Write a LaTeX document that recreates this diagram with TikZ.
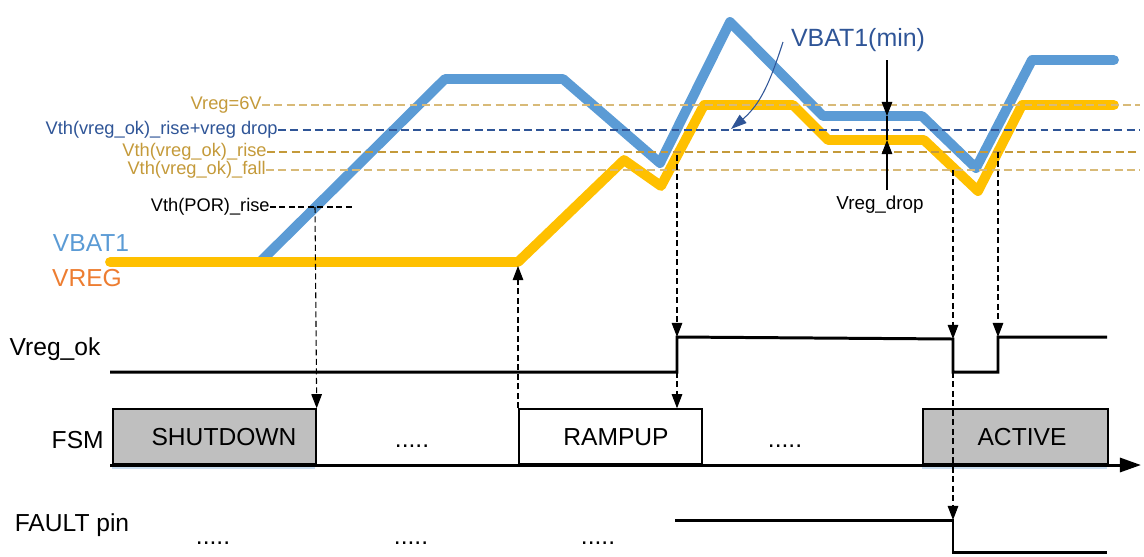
\documentclass[tikz,border=0pt]{standalone}
\usepackage{fontspec}
\setmainfont{Liberation Sans}
\usetikzlibrary{arrows.meta}

\definecolor{vbatblue}{HTML}{5B9BD5}
\definecolor{vregyellow}{HTML}{FFC000}
\definecolor{vregorange}{HTML}{ED7D31}
\definecolor{thgold}{HTML}{C49A3A}
\definecolor{thtan}{HTML}{D8BA78}
\definecolor{thblue}{HTML}{2F5597}
\definecolor{boxgray}{HTML}{BFBFBF}
\definecolor{boxshade}{HTML}{C9DDF0}

\begin{document}
\begin{tikzpicture}[x=0.02cm, y=-0.02cm,
    curve/.style={line width=5.6pt, line join=round, line cap=round},
    thline/.style={line width=0.75pt, dash pattern=on 4.5pt off 2.5pt},
    sig/.style={line width=1.7pt},
    guide/.style={line width=0.6pt, dash pattern=on 3.4pt off 2pt, -{Triangle[length=8pt,width=6pt]}},
    thin/.style={line width=0.6pt},
    lbl/.style={font=\fontsize{10.4}{12}\selectfont, inner sep=0pt, anchor=east},
    big/.style={font=\fontsize{14}{16}\selectfont, inner sep=0pt},
    fsmbox/.style={draw, line width=1pt, anchor=south west, minimum height=1.1cm}]
  \useasboundingbox (0,0) rectangle (1144,556);

  % VBAT1 and VREG curves
  \draw[curve, vbatblue] (260,262) -- (445,79) -- (563,79) -- (660,163)
    -- (730,22) -- (823,116) -- (922,116) -- (976,168) -- (1032,60) -- (1114,60);
  \draw[curve, vregyellow] (110,262) -- (518,262) -- (624,160) -- (661,186)
    -- (704,105) -- (793,105) -- (828,140) -- (924,140) -- (978,191)
    -- (1022,105) -- (1114,105);

  % thresholds
  \node[lbl, text=thgold] (lvreg) at (262,105) {Vreg=6V};
  \node[lbl, text=thblue] (lrisedrop) at (278,130) {Vth(vreg\_ok)\_rise+vreg drop};
  \node[lbl, text=thgold] (lrise) at (267,152) {Vth(vreg\_ok)\_rise};
  \node[lbl, text=thgold] (lfall) at (266,170) {Vth(vreg\_ok)\_fall};
  \node[lbl] (lpor) at (270,207) {Vth(POR)\_rise};
  \draw[thline, thtan] (lvreg.east) -- (1140,105);
  \draw[thline, thblue] (lrisedrop.east) -- (1140,130);
  \draw[thline, thgold] (lrise.east) -- (1140,152);
  \draw[thline, thtan] (lfall.east) -- (1140,170);
  \draw[thline, dash pattern=on 3.4pt off 2pt] (lpor.east) -- (352,207);

  % signal names
  \node[big, text=vbatblue] (nvbat) at (91,243) {VBAT1};
  \node[big, text=vregorange] (nvreg) at (87,278) {VREG};
  \node[big] (nok) at (55,349) {Vreg\_ok};
  \node[big, anchor=east] (nfsm) at (104,440) {FSM};
  \node[big] (nfault) at (72,525) {FAULT pin};

  % VBAT1(min) and Vreg_drop
  \node[font=\fontsize{14.2}{16}\selectfont, text=thblue, inner sep=0pt] (vmin) at (858,40) {VBAT1(min)};
  \draw[thin, thblue, -{Triangle[length=9pt,width=6pt]}] (783,42) to[out=252, in=40] (731,129);
  \node[font=\fontsize{10.7}{12}\selectfont, inner sep=0pt] (vdrop) at (880,205) {Vreg\_drop};
  \coordinate (droptop) at (887,60);
  \coordinate (dropb) at (887,116);
  \coordinate (dropy) at (887,140);
  \coordinate (dropbot) at (887,190);
  \draw[thin, -{Triangle[length=8pt,width=6pt]}] (droptop) -- (dropb);
  \draw[thin] (dropb) -- (dropy);
  \draw[thin, -{Triangle[length=8pt,width=6pt]}] (dropbot) -- (dropy);

  % Vreg_ok
  \coordinate (ok0) at (110,372);
  \coordinate (ok1) at (677,372);
  \coordinate (ok2) at (677,337);
  \coordinate (ok3) at (953,339);
  \coordinate (ok4) at (953,372);
  \coordinate (ok5) at (998,372);
  \coordinate (ok6) at (998,337);
  \coordinate (ok7) at (1107,337);
  \draw[sig] (ok0) -- (ok1) -- (ok2) -- (ok3) -- (ok4) -- (ok5) -- (ok6) -- (ok7);

  % FSM states
  \draw[boxshade, line width=1pt] (112,468) -- (315,468) (922,468) -- (1107,468);
  \node[fsmbox, fill=boxgray, minimum width=4.06cm] (shutdown) at (112,465) {};
  \node[fsmbox, fill=white, minimum width=3.66cm] (rampup) at (518,465) {};
  \node[fsmbox, fill=boxgray, minimum width=3.7cm] (active) at (922,465) {};
  \node[big] (tshutdown) at (224,437) {SHUTDOWN};
  \node[big] (trampup) at (616,437) {RAMPUP};
  \node[big] (tactive) at (1022,437) {ACTIVE};
  \node[big, anchor=base] (dots1) at (412,447) {.....};
  \node[big, anchor=base] (dots2) at (785,447) {.....};
  \draw[line width=1.7pt, -{Triangle[length=12pt,width=8pt]}] (110,465) -- (1141,465);

  % FAULT pin
  \coordinate (f0) at (675,520);
  \coordinate (f1) at (953,520);
  \coordinate (f2) at (953,552);
  \coordinate (f3) at (1107,552);
  \draw[sig] (f0) -- (f1) -- (f2) -- (f3);
  \node[big, anchor=base] (dots3) at (213,544) {.....};
  \node[big, anchor=base] (dots4) at (411,544) {.....};
  \node[big, anchor=base] (dots5) at (598,544) {.....};

  % cause and effect
  \coordinate (porhit) at (315,207);
  \coordinate (rampstart) at (518,266);
  \coordinate (okrise) at (677,155);
  \coordinate (okfall) at (953,170);
  \coordinate (okrise2) at (998,152);
  \draw[guide] (porhit) -- (shutdown.north east);
  \draw[guide] (rampup.north west) -- (rampstart);
  \draw[guide] (okrise) -- (ok2);
  \draw[guide] (ok1) -- (ok1 |- rampup.north);
  \draw[guide] (okfall) -- (ok3);
  \draw[guide] (okrise2) -- (ok6);
  \draw[guide] (ok4) -- (f1);
\end{tikzpicture}
\end{document}
